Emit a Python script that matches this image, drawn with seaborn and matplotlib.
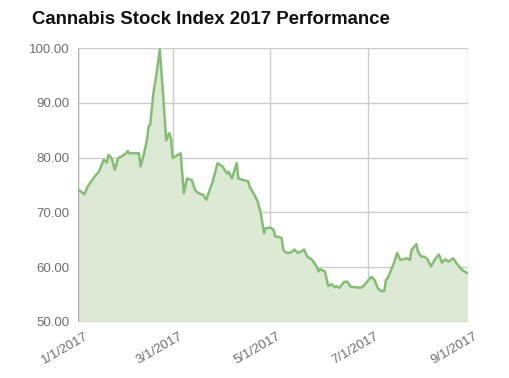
import matplotlib
matplotlib.use("Agg")
import matplotlib.pyplot as plt
import matplotlib.transforms as mtransforms
import seaborn as sns
import pandas as pd

dates = [
    "2017-01-01", "2017-01-02", "2017-01-05", "2017-01-07", "2017-01-12", "2017-01-14",
    "2017-01-17", "2017-01-19", "2017-01-20", "2017-01-22", "2017-01-24", "2017-01-26",
    "2017-01-28", "2017-01-31", "2017-02-01", "2017-02-02", "2017-02-08", "2017-02-09",
    "2017-02-11", "2017-02-13", "2017-02-14", "2017-02-15", "2017-02-17", "2017-02-19",
    "2017-02-21", "2017-02-23", "2017-02-25", "2017-02-27", "2017-02-28", "2017-03-01",
    "2017-03-03", "2017-03-06", "2017-03-08", "2017-03-10", "2017-03-13", "2017-03-15",
    "2017-03-17", "2017-03-20", "2017-03-22", "2017-03-23", "2017-03-26", "2017-03-29",
    "2017-04-01", "2017-04-04", "2017-04-05", "2017-04-07", "2017-04-10", "2017-04-11",
    "2017-04-14", "2017-04-17", "2017-04-18", "2017-04-21", "2017-04-23", "2017-04-25",
    "2017-04-27", "2017-04-28", "2017-05-01", "2017-05-03", "2017-05-04", "2017-05-06",
    "2017-05-08", "2017-05-09", "2017-05-11", "2017-05-13", "2017-05-15", "2017-05-16",
    "2017-05-18", "2017-05-20", "2017-05-22", "2017-05-24", "2017-05-27", "2017-05-30",
    "2017-05-31", "2017-06-01", "2017-06-04", "2017-06-06", "2017-06-08", "2017-06-10",
    "2017-06-11", "2017-06-13", "2017-06-16", "2017-06-18", "2017-06-20", "2017-06-23",
    "2017-06-26", "2017-06-28", "2017-07-01", "2017-07-03", "2017-07-05", "2017-07-07",
    "2017-07-09", "2017-07-11", "2017-07-12", "2017-07-13", "2017-07-17", "2017-07-19",
    "2017-07-21", "2017-07-23", "2017-07-25", "2017-07-27", "2017-07-28", "2017-07-31",
    "2017-08-01", "2017-08-03", "2017-08-05", "2017-08-07", "2017-08-09", "2017-08-12",
    "2017-08-14", "2017-08-16", "2017-08-18", "2017-08-20", "2017-08-23", "2017-08-25",
    "2017-08-28", "2017-08-31", "2017-09-01",
]

values = [
    74.0, 74.0, 73.3, 74.7, 76.8, 77.4,
    79.6, 79.1, 80.5, 79.9, 77.8, 79.9,
    80.2, 80.8, 81.2, 80.8, 80.8, 78.4,
    80.5, 83.2, 85.7, 86.0, 91.8, 95.4,
    99.8, 91.8, 83.2, 84.5, 83.5, 79.9,
    80.3, 80.8, 73.5, 76.2, 75.9, 74.1,
    73.5, 73.2, 72.3, 73.2, 75.6, 79.0,
    78.4, 77.1, 77.4, 76.2, 79.0, 76.2,
    75.9, 75.7, 74.7, 73.2, 72.0, 69.8,
    66.2, 67.1, 67.2, 66.8, 65.6, 65.5,
    65.3, 63.1, 62.6, 62.6, 62.9, 63.2,
    62.6, 62.8, 63.2, 61.9, 61.3, 60.0,
    59.2, 59.6, 59.2, 56.5, 56.9, 56.3,
    56.5, 56.2, 57.3, 57.3, 56.4, 56.3,
    56.2, 56.5, 57.6, 58.2, 57.6, 56.1,
    55.6, 55.6, 57.6, 57.9, 60.7, 62.6,
    61.3, 61.4, 61.6, 61.3, 63.1, 64.2,
    62.8, 61.9, 61.9, 61.4, 60.1, 61.6,
    62.3, 60.8, 61.4, 61.0, 61.6, 60.7,
    59.6, 59.0, 58.9,
]

tick_dates = ["2017-01-01", "2017-03-01", "2017-05-01", "2017-07-01", "2017-09-01"]
tick_labels = ["1/1/2017", "3/1/2017", "5/1/2017", "7/1/2017", "9/1/2017"]
y_ticks = [50, 60, 70, 80, 90, 100]
title = "Cannabis Stock Index 2017 Performance"

df = pd.DataFrame({"date": pd.to_datetime(dates), "value": values})

sns.set_style("white")
plt.rcParams["font.family"] = ["Liberation Sans", "DejaVu Sans"]

fig = plt.figure(figsize=(5.10, 3.78), dpi=100)
ax = fig.add_axes([78 / 510, 1 - 321.7 / 378, (467.7 - 78) / 510, (321.7 - 48.3) / 378])

line_color = "#86bd74"
fill_color = "#dce9d5"

ax.fill_between(df["date"], 50, df["value"], color=fill_color, linewidth=0, zorder=1)
sns.lineplot(data=df, x="date", y="value", ax=ax, color=line_color, linewidth=1.8, zorder=3)

xmin = pd.Timestamp(tick_dates[0])
xmax = pd.Timestamp(tick_dates[-1])
ax.set_xlim(xmin, xmax)
ax.set_ylim(50, 100)

ax.set_yticks(y_ticks)
ax.set_yticklabels([f"{v:.2f}" for v in y_ticks])
ax.set_xticks(pd.to_datetime(tick_dates))
ax.set_xticklabels(tick_labels)

ax.grid(True, color="#cccccc", linewidth=1.0, zorder=0)
ax.set_axisbelow(True)
for s in ax.spines.values():
    s.set_visible(False)
ax.axhline(50, color="#b0b0b0", linewidth=1.0, zorder=2)
ax.axvline(xmin, color="#b0b0b0", linewidth=1.0, zorder=2)

ax.tick_params(axis="both", length=0, labelsize=9.5, labelcolor="#6e6e6e")
ax.tick_params(axis="y", pad=6)
ax.tick_params(axis="x", pad=6)
offset = mtransforms.ScaledTranslation(6 / 100, 0, fig.dpi_scale_trans)
for lab in ax.get_xticklabels():
    lab.set_rotation(30)
    lab.set_ha("right")
    lab.set_rotation_mode("anchor")
    lab.set_transform(lab.get_transform() + offset)

ax.set_xlabel("")
ax.set_ylabel("")

fig.text(32 / 510, 1 - 19 / 378, title, fontsize=13.4, fontweight="bold",
         color="#111111", ha="left", va="center")

fig.savefig("out.png", dpi=100)
